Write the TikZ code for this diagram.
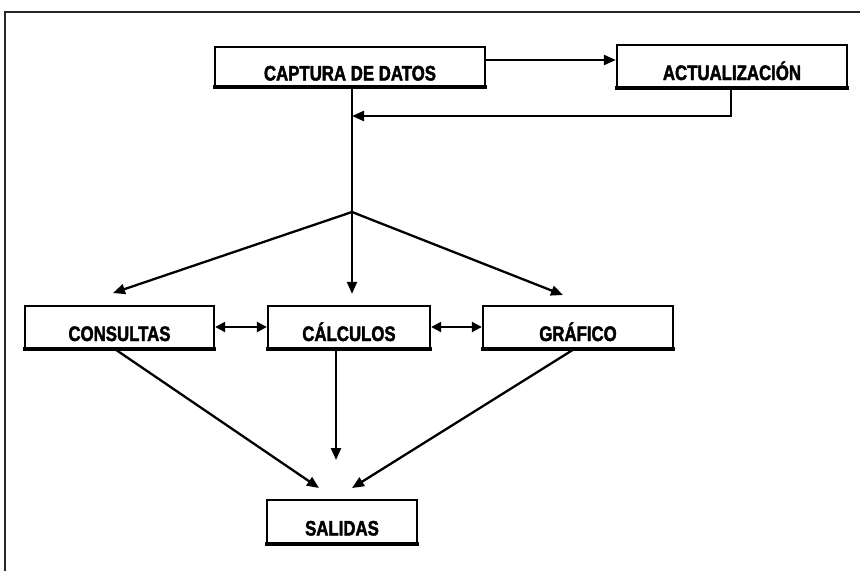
\documentclass[tikz,border=0pt]{standalone}
\usepackage{fontspec}
\newfontfamily\boxfont{Liberation Sans Bold}[FakeStretch=0.8, FakeBold=2]
\usetikzlibrary{arrows.meta}
\begin{document}
\begin{tikzpicture}[x=1pt,y=-1pt,
  procbox/.style={draw, line width=2.3pt, inner sep=0pt,
    text height=28pt, text depth=0pt,
    font=\boxfont\fontsize{21}{22}\selectfont},
  flow/.style={line width=2.3pt, -{Triangle[length=12pt,width=10pt]}},
  link/.style={line width=2.3pt},
  both/.style={line width=2.3pt, {Triangle[length=10pt,width=10pt]}-{Triangle[length=10pt,width=10pt]}}]
  \useasboundingbox (0,0) rectangle (860,571);
  % page frame
  \draw[line width=2.4pt, black!85] (5,571) -- (5,12) -- (860,12);

  % process boxes
  \node[procbox, minimum width=270pt, minimum height=39pt] (cap) at (350,66.5) {CAPTURA DE DATOS};
  \node[procbox, minimum width=230pt, minimum height=42pt] (act) at (732,66) {ACTUALIZACIÓN};
  \node[procbox, minimum width=189pt, minimum height=42pt] (con) at (119.5,327) {CONSULTAS};
  \node[procbox, minimum width=162pt, minimum height=42pt] (cal) at (349,327) {CÁLCULOS};
  \node[procbox, minimum width=190pt, minimum height=42pt] (gra) at (578,327) {GRÁFICO};
  \node[procbox, minimum width=150pt, minimum height=43pt] (sal) at (342,521.5) {SALIDAS};

  % heavier lower edge of each box
  \foreach \b in {cap,act,con,cal,gra,sal}
    \draw[line width=3.6pt] ([xshift=-1.1pt]\b.south west) -- ([xshift=1.1pt]\b.south east);

  % junction points
  \coordinate (ret) at (352,116);
  \coordinate (fork) at (352,212);

  % top section
  \draw[flow] (cap.east |- 0,60) -- (act.west |- 0,60);
  \draw[flow] (act.south -| 731,0) |- (ret);
  \draw[link] (cap.south -| fork) -- (fork);

  % fork to the three modules
  \draw[flow] (fork) -- (113,293);
  \draw[flow] (fork) -- ([yshift=11pt]cal.north -| fork);
  \draw[flow] (fork) -- (563,295);

  % links between modules
  \draw[both] (con.east) -- (cal.west);
  \draw[both] (cal.east) -- (gra.west);

  % modules to output
  \draw[flow] (con.south -| 115,0) -- (319,488);
  \draw[flow] (cal.south -| 336,0) -- (336,460);
  \draw[flow] (gra.south -| 574,0) -- (352,488);
\end{tikzpicture}
\end{document}
